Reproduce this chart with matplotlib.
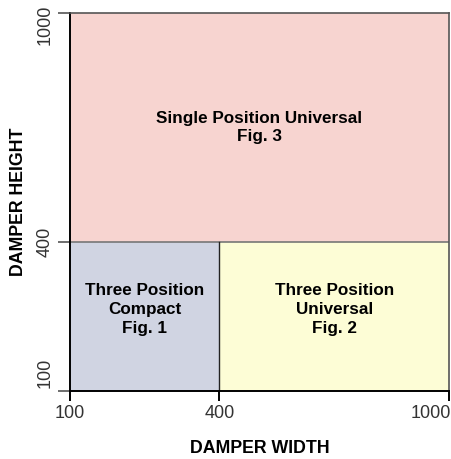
import numpy as np
from matplotlib import pyplot as plt
from matplotlib.transforms import ScaledTranslation

plt.rcParams['font.family'] = ['Liberation Sans', 'DejaVu Sans']

breaks = [100, 400, 1000]
tick_labels = ['100', '400', '1000']

# regions
region_x = [(100, 1000), (100, 400), (400, 1000)]
region_y = [(400, 1000), (100, 400), (100, 400)]
region_labels = ['Single Position Universal\nFig. 3',
                 'Three Position\nCompact\nFig. 1',
                 'Three Position\nUniversal\nFig. 2']
region_colors = ['#f7d4d0', '#d0d4e2', '#fdfdd6']

pos = [0, 0.394, 1]


def fwd(v):
    return np.interp(v, breaks, pos)


def inv(v):
    return np.interp(v, pos, breaks)


fig = plt.figure(figsize=(4.52, 4.59), dpi=100)
ax = fig.add_axes([70 / 452, 1 - 391 / 459, 379 / 452, 378 / 459])
ax.set_xscale('function', functions=(fwd, inv))
ax.set_yscale('function', functions=(fwd, inv))
ax.set_xlim(100, 1000)
ax.set_ylim(100, 1000)

for (x0, x1), (y0, y1), lab, c in zip(region_x, region_y, region_labels, region_colors):
    ax.fill([x0, x1, x1, x0], [y0, y0, y1, y1], color=c, lw=0)
    cx = inv((fwd(x0) + fwd(x1)) / 2)
    # lower boxes have their text sitting a little above centre
    shift = 0.018 if y1 == 400 else 0
    cy = inv((fwd(y0) + fwd(y1)) / 2 + shift)
    ax.text(cx, cy, lab, ha='center', va='center', fontsize=12.3,
            fontweight='bold', linespacing=1.32)

ax.axhline(400, color='#777777', lw=1.2)
ax.plot([400, 400], [100, 400], color='#222222', lw=1)

ax.spines['left'].set_color('black')
ax.spines['bottom'].set_color('black')
ax.spines['left'].set_linewidth(1.4)
ax.spines['bottom'].set_linewidth(1.4)
ax.spines['top'].set_color('#555555')
ax.spines['right'].set_color('#555555')
ax.spines['top'].set_linewidth(1.2)
ax.spines['right'].set_linewidth(1.2)

ax.set_xticks(breaks)
ax.set_xticklabels(tick_labels, fontsize=13, color='#333333')
ax.set_yticks(breaks)
ax.set_yticklabels(tick_labels, fontsize=13, color='#333333', rotation=90, va='center')
ax.minorticks_off()
ax.tick_params(axis='x', length=7, width=1.4, color='black', pad=3)
ax.tick_params(axis='y', length=9, width=1.2, color='#555555', pad=3)

xl = ax.xaxis.get_majorticklabels()
xl[-1].set_ha('right')
xl[-1].set_transform(xl[-1].get_transform() + ScaledTranslation(2 / 100, 0, fig.dpi_scale_trans))
yl = ax.yaxis.get_majorticklabels()
yl[0].set_va('bottom')
yl[0].set_transform(yl[0].get_transform() + ScaledTranslation(0, 3 / 100, fig.dpi_scale_trans))
yl[-1].set_va('top')
yl[-1].set_transform(yl[-1].get_transform() + ScaledTranslation(0, 8 / 100, fig.dpi_scale_trans))

ax.set_xlabel('DAMPER WIDTH', fontsize=12.8, fontweight='bold', labelpad=13)
ax.set_ylabel('DAMPER HEIGHT', fontsize=12.8, fontweight='bold', labelpad=7)

fig.savefig('out.png', dpi=100)
